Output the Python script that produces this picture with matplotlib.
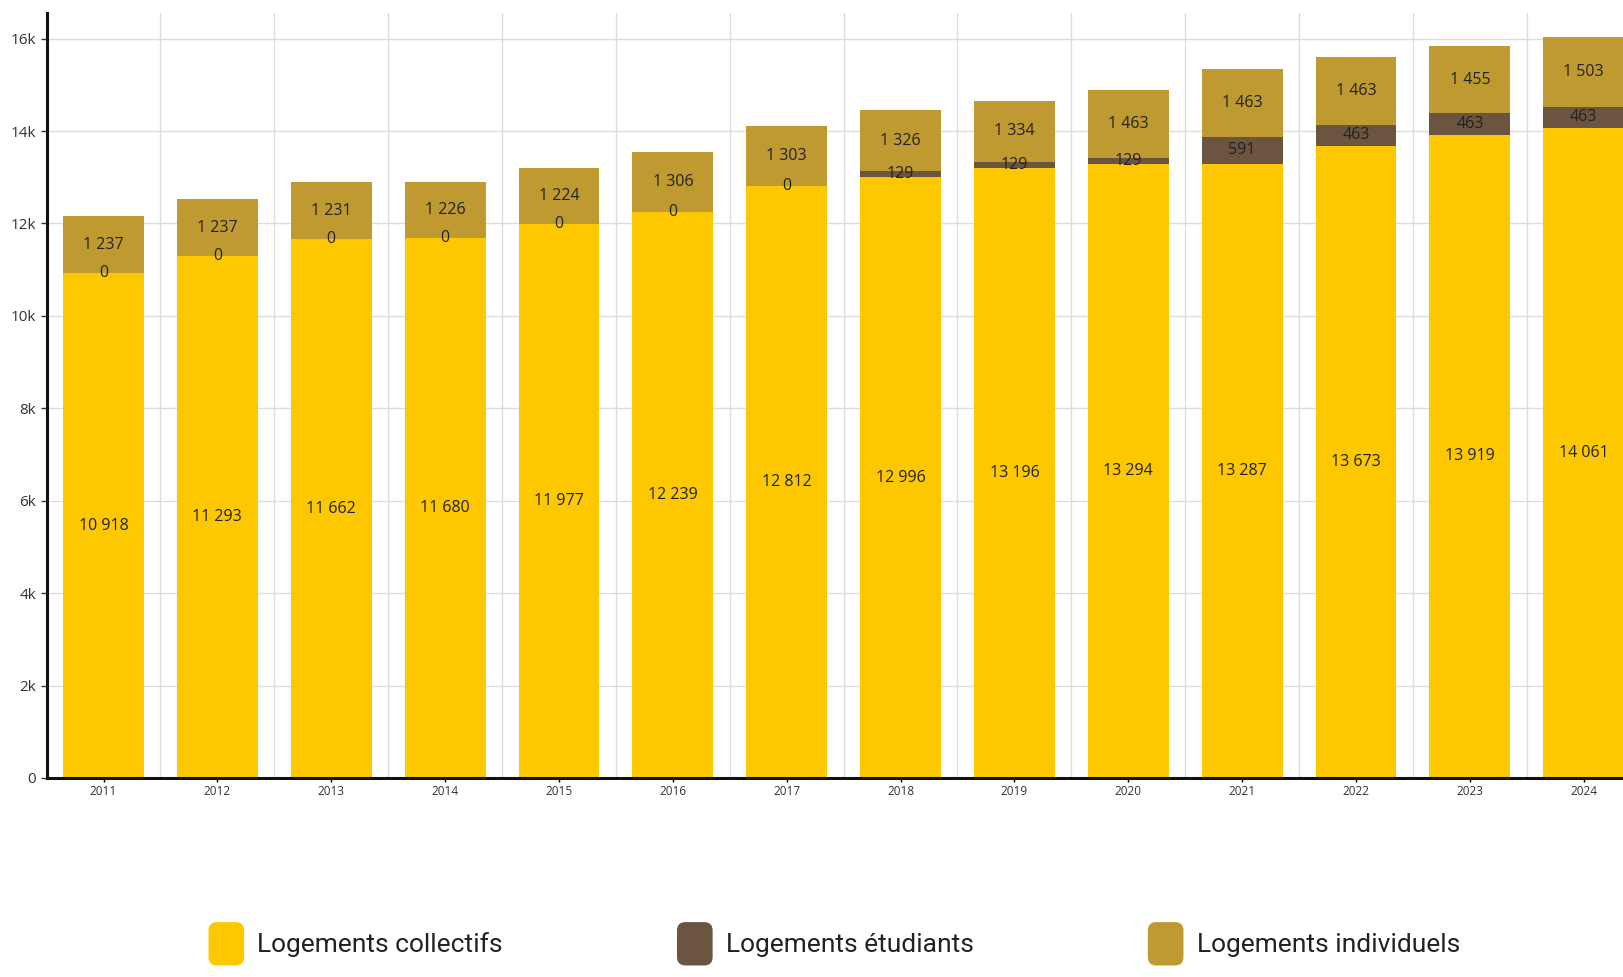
import matplotlib
matplotlib.use("Agg")
import matplotlib.pyplot as plt
import numpy as np
from matplotlib.patches import Patch, FancyBboxPatch
from matplotlib.legend_handler import HandlerPatch
from matplotlib.ticker import FuncFormatter

years = ["2011", "2012", "2013", "2014", "2015", "2016", "2017",
         "2018", "2019", "2020", "2021", "2022", "2023", "2024"]
collectifs = [10918, 11293, 11662, 11680, 11977, 12239, 12812,
              12996, 13196, 13294, 13287, 13673, 13919, 14061]
etudiants = [0, 0, 0, 0, 0, 0, 0, 129, 129, 129, 591, 463, 463, 463]
individuels = [1237, 1237, 1231, 1226, 1224, 1306, 1303,
               1326, 1334, 1463, 1463, 1463, 1455, 1503]

series_names = ["Logements collectifs", "Logements étudiants", "Logements individuels"]
colors = ["#FDC800", "#6B5540", "#BF9A30"]

plt.rcParams["font.family"] = ["Open Sans", "DejaVu Sans"]


def fmt_num(v):
    return f"{v:,}".replace(",", " ")


def rounded_handle(legend, orig_handle, xdescent, ydescent, width, height, fontsize):
    return FancyBboxPatch((-xdescent + 3, -ydescent + 3), width - 6, height - 6,
                          boxstyle="round,pad=3,rounding_size=6")


fig = plt.figure(figsize=(16.23, 9.77), dpi=100)
ax = fig.add_axes([0.0287, 0.2037, 0.9713, 0.7833])

x = np.arange(len(years))
bottom = np.zeros(len(years))
for name, vals, col in zip(series_names, [collectifs, etudiants, individuels], colors):
    vals = np.array(vals, dtype=float)
    ax.bar(x, vals, bottom=bottom, width=0.71, color=col, label=name, zorder=2)
    for xi, b, v in zip(x, bottom, vals):
        ax.text(xi, b + v / 2, fmt_num(int(v)), ha="center", va="center",
                fontsize=11.5, color="#222222", zorder=3)
    bottom += vals

ax.set_xlim(-0.5, 13.345)
ax.set_ylim(0, 16560)
ax.set_yticks(np.arange(0, 16001, 2000))
ax.yaxis.set_major_formatter(FuncFormatter(lambda v, p: "0" if v == 0 else f"{int(v / 1000)}k"))
ax.set_xticks(x)
ax.set_xticklabels(years, fontsize=8.5, color="#333333")
ax.tick_params(axis="y", labelsize=11, colors="#333333", length=4, width=1)
ax.tick_params(axis="x", length=3, width=1, pad=2)
ax.set_xticks(x[:-1] + 0.5, minor=True)
ax.tick_params(axis="x", which="minor", length=0)
ax.grid(axis="y", color="#dddddd", linewidth=1, zorder=0)
ax.grid(axis="x", which="minor", color="#dddddd", linewidth=1, zorder=0)
ax.grid(axis="x", which="major", visible=False)
ax.set_axisbelow(True)
for side in ["top", "right"]:
    ax.spines[side].set_visible(False)
for side in ["left", "bottom"]:
    ax.spines[side].set_linewidth(2.2)
    ax.spines[side].set_color("#111111")

handles = [Patch(facecolor=c, edgecolor="none") for c in colors]
leg = fig.legend(handles, series_names, loc="center", bbox_to_anchor=(0.514, 0.034), ncol=3,
                 frameon=False, handlelength=1.35, handleheight=2.15,
                 handletextpad=0.5, columnspacing=6.6,
                 handler_map={Patch: HandlerPatch(patch_func=rounded_handle)},
                 prop={"family": ["Roboto", "DejaVu Sans"], "size": 19})
for t in leg.get_texts():
    t.set_color("#222222")

fig.savefig("out.png", dpi=100)
